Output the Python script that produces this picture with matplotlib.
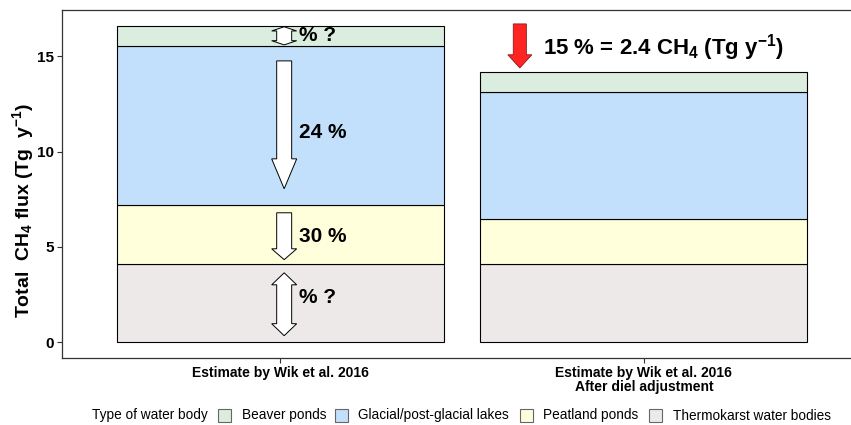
import matplotlib
matplotlib.use("Agg")
import matplotlib.pyplot as plt
from matplotlib.patches import Polygon, Rectangle
import numpy as np

plt.rcParams['font.family'] = ['Liberation Sans', 'DejaVu Sans']
plt.rcParams['mathtext.fontset'] = 'custom'
plt.rcParams['mathtext.rm'] = 'Liberation Sans'
plt.rcParams['mathtext.bf'] = 'Liberation Sans:bold'
plt.rcParams['mathtext.it'] = 'Liberation Sans:italic'

# ---- data -------------------------------------------------------------
estimates = ["Estimate by Wik et al. 2016",
             "Estimate by Wik et al. 2016\nAfter diel adjustment"]
water_types = ["Thermokarst water bodies", "Peatland ponds",
               "Glacial/post-glacial lakes", "Beaver ponds"]
thermokarst = [4.10, 4.10]
peatland = [3.10, 2.35]
glacial = [8.35, 6.70]
beaver = [1.05, 1.05]
colors = {"Beaver ponds": "#DAEDDF",
          "Glacial/post-glacial lakes": "#C2E0FC",
          "Peatland ponds": "#FFFFDC",
          "Thermokarst water bodies": "#EDE9E8"}
change_labels = ["% ?", "30 %", "24 %", "% ?"]   # thermo, peat, glacial, beaver
reduction_label = r"15 % = 2.4 CH$_\mathbf{4}$ (Tg y$^\mathbf{-1}$)"
legend_title = "Type of water body"
legend_order = ["Beaver ponds", "Glacial/post-glacial lakes",
                "Peatland ponds", "Thermokarst water bodies"]

# ---- figure -----------------------------------------------------------
W, H = 851, 425
fig = plt.figure(figsize=(W / 100, H / 100), dpi=100)
ax = fig.add_axes([62 / W, (H - 358) / H, 800 / W, 348 / H])

x = np.arange(1, len(estimates) + 1)
series = [thermokarst, peatland, glacial, beaver]
bottom = np.zeros(len(estimates))
bounds = []
for name, vals in zip(water_types, series):
    vals = np.asarray(vals)
    ax.bar(x, vals, width=0.9, bottom=bottom, color=colors[name],
           edgecolor="black", linewidth=0.8, zorder=2)
    bounds.append((bottom.copy(), bottom + vals))
    bottom = bottom + vals
totals = bottom

ax.set_xlim(0.4, 2.6)
ymax = totals.max()
ax.set_ylim(-0.05 * ymax, 1.05 * ymax)
ax.set_xticks(x)
ax.set_xticklabels(estimates, fontsize=10, fontweight="bold",
                   multialignment="center", linespacing=1.0)
ax.set_yticks([0, 5, 10, 15])
ax.tick_params(axis="y", labelsize=11, length=3.5, width=0.8,
               color="#333333", pad=2)
ax.tick_params(axis="x", length=3.5, width=0.8, color="#333333", pad=2)
for t in ax.get_yticklabels():
    t.set_fontweight("bold")
for s in ["left", "top", "bottom"]:
    ax.spines[s].set_color("#333333")
    ax.spines[s].set_linewidth(0.9)
ax.spines["right"].set_visible(False)
ax.set_ylabel(r"Total  CH$_\mathbf{4}$ flux (Tg  y$^\mathbf{-1}$)",
              fontsize=14, fontweight="bold")
ax.yaxis.set_label_coords(-0.032, 0.425)


def block_arrow(xc, y_tail, y_tip, shaft_hw, head_hw, head_len, double=False,
                **kw):
    d = np.sign(y_tip - y_tail)
    yh = y_tip - d * head_len
    if double:
        yt = y_tail + d * head_len
        pts = [(xc, y_tail), (xc + head_hw, yt), (xc + shaft_hw, yt),
               (xc + shaft_hw, yh), (xc + head_hw, yh), (xc, y_tip),
               (xc - head_hw, yh), (xc - shaft_hw, yh), (xc - shaft_hw, yt),
               (xc - head_hw, yt)]
    else:
        pts = [(xc - shaft_hw, y_tail), (xc + shaft_hw, y_tail),
               (xc + shaft_hw, yh), (xc + head_hw, yh), (xc, y_tip),
               (xc - head_hw, yh), (xc - shaft_hw, yh)]
    ax.add_patch(Polygon(pts, closed=True, zorder=4, **kw))


white = dict(facecolor="white", edgecolor="black", linewidth=0.7)
ax_c = x[0] + 0.011
shw, hhw = 0.0206, 0.0344
(tb, tt), (pb, pt), (gb, gt), (bb, bt) = [(b[0][0], b[1][0]) for b in bounds]
# thermokarst: uncertain change
block_arrow(ax_c, tt - 0.46, tb + 0.34, shw, hhw, 0.63, double=True, **white)
# peatland: 30 % reduction
block_arrow(ax_c, pt - 0.41, pb + 0.23, shw, hhw, 0.57, **white)
# glacial: 24 % reduction
block_arrow(ax_c, gt - 0.79, gb + 0.85, shw, hhw, 1.57, **white)
# beaver: uncertain change
block_arrow(ax_c, bt - 0.05, bb + 0.05, shw, hhw, 0.22, double=True, **white)

lab_x = x[0] + 0.051
lab_y = [(tb + tt) / 2 + 0.28, (pb + pt) / 2 - 0.1,
         (gb + gt) / 2 - 0.35, (bb + bt) / 2 + 0.0]
for txt, yy in zip(change_labels, lab_y):
    ax.text(lab_x, yy, txt, fontsize=15, fontweight="bold",
            ha="left", va="center", zorder=5)

# overall reduction after diel adjustment
rx = x[1] - 0.341
block_arrow(rx, totals[0] + 0.1, totals[1] + 0.19, 0.018, 0.033, 0.69,
            facecolor="#FF2424", edgecolor="#8B1A1A", linewidth=0.6)
ax.text(x[1] - 0.278, 15.44, reduction_label, fontsize=16,
        fontweight="bold", ha="left", va="center", zorder=5)

# ---- legend (single row: title, then key + label pairs) ---------------
leg_y = 415.5
key = 13
fig.text(92 / W, 1 - leg_y / H, legend_title, fontsize=9.8,
         ha="left", va="center")
key_left = [218, 335, 520, 649]
text_left = [242, 358, 543, 673]
for name, kx, tx in zip(legend_order, key_left, text_left):
    fig.add_artist(Rectangle((kx / W, 1 - (leg_y + key / 2) / H),
                             key / W, key / H, transform=fig.transFigure,
                             facecolor=colors[name], edgecolor="#666666",
                             linewidth=0.8))
    fig.text(tx / W, 1 - leg_y / H, name, fontsize=9.8,
             ha="left", va="center")

fig.savefig("out.png", dpi=100)
